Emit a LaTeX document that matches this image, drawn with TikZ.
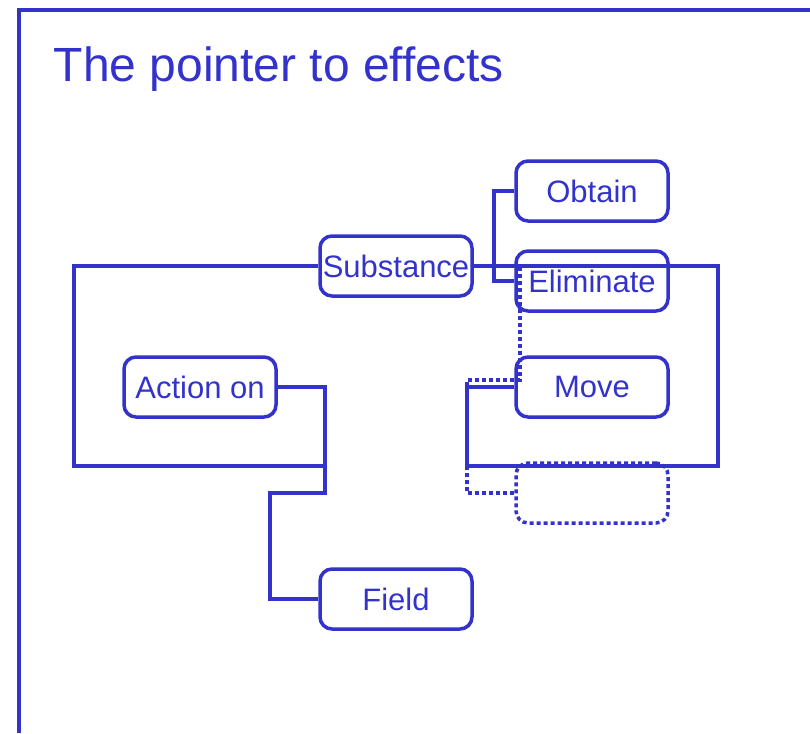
\documentclass[tikz,border=0pt]{standalone}
\usepackage{fontspec}
\setmainfont{Liberation Sans}
\definecolor{ink}{RGB}{51,51,204}

\begin{document}
\begin{tikzpicture}[x=1pt,y=-1pt,
		box/.style={draw,rounded corners=12pt,minimum width=152pt,minimum height=60pt,inner sep=0pt,font=\fontsize{31}{36}\selectfont},
		dots/.style={dash pattern=on 4pt off 3pt}]
		\useasboundingbox (0,0) rectangle (810,733);
		\begin{scope}[ink,line width=3.5pt]
			% frame and heading
			\draw[line width=4pt] (19,733) -- (19,10) -- (810,10);
			\node[anchor=base west,inner sep=0pt,font=\fontsize{48}{56}\selectfont] (title) at (52,82) {The pointer to effects};
	
			\node[box] (obtain) at (592,191) {Obtain};
			\node[box] (subst) at (396,266) {Substance};
			\node[box] (elim) at (592,281) {Eliminate};
			\node[box] (action) at (200,387) {Action on};
			\node[box] (move) at (592,387) {Move};
			\node[box,dots] (blank) at (592,493) {};
			\node[box] (field) at (396,599) {Field};
		
			\coordinate (lj) at (325,466);
			\coordinate (fj) at (270,493);
			\coordinate (rc) at (718,466);
			\coordinate (rj) at (467,466);
			\coordinate (oj) at (494,266);
			\coordinate (dj) at (467,380);
			\coordinate (ej) at (520,266);
		
			% left loop
			\draw (subst.west) -| (74,466) -- (lj);
			\draw (action.east) -| (lj) |- (fj) |- (field.west);
			% right loop
			\draw (subst.east) -| (rc) -- (rj);
			\draw (move.west) -| (rj);
			\draw (obtain.west) -| (oj) |- (elim.west);
			\draw[dots] (blank.west) -| (dj) -| (ej) -- (subst.east);
		\end{scope}
	\end{tikzpicture}
\end{document}
